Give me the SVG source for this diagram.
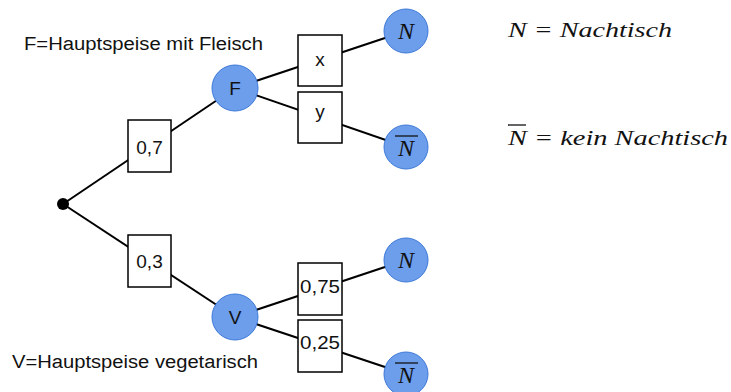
<svg xmlns="http://www.w3.org/2000/svg" width="731" height="392" viewBox="0 0 731 392">
<style>
.edge{stroke:#000;stroke-width:2;fill:none}
.box{fill:#fff;stroke:#000;stroke-width:1.5}
.circ{fill:#6d9eeb;stroke:#3c78d8;stroke-width:1}
.lbl{font-family:"Liberation Sans",Arial,sans-serif;font-size:19px;fill:#111;text-anchor:middle}
.cap{font-family:"Liberation Sans",Arial,sans-serif;font-size:18px;fill:#111}
.math{font-family:"Liberation Serif","Times New Roman",serif;font-style:italic;font-size:22px;fill:#111}
.nl{font-family:"Liberation Serif","Times New Roman",serif;font-style:italic;font-size:24px;fill:#111;text-anchor:middle}
.bar{stroke:#111;stroke-width:1.3}
</style>
<rect width="731" height="392" fill="#fff"/>
<g id="connectors">
<line class="edge" x1="63" y1="204" x2="235" y2="88"/>
<line class="edge" x1="63" y1="204" x2="235" y2="317"/>
<line class="edge" x1="235" y1="88" x2="406" y2="31"/>
<line class="edge" x1="235" y1="88" x2="406" y2="147"/>
<line class="edge" x1="235" y1="317" x2="406" y2="260"/>
<line class="edge" x1="235" y1="317" x2="406" y2="374"/>
</g>
<g id="root"><circle cx="63" cy="204" r="6" fill="#000"/></g>
<g id="p07"><rect class="box" x="128" y="120" width="43" height="52"/><text class="lbl" x="149.5" y="154">0,7</text></g>
<g id="p03"><rect class="box" x="128" y="235" width="43" height="52"/><text class="lbl" x="149.5" y="268">0,3</text></g>
<g id="px"><rect class="box" x="298" y="35" width="44" height="51"/><text class="lbl" x="320" y="66">x</text></g>
<g id="py"><rect class="box" x="298" y="92" width="44" height="51"/><text class="lbl" x="320" y="118">y</text></g>
<g id="p075"><rect class="box" x="298" y="263" width="44" height="52"/><text class="lbl" x="320" y="293" textLength="40" lengthAdjust="spacingAndGlyphs">0,75</text></g>
<g id="p025"><rect class="box" x="298" y="320" width="44" height="52"/><text class="lbl" x="320" y="349" textLength="40" lengthAdjust="spacingAndGlyphs">0,25</text></g>
<g id="F"><circle class="circ" cx="235" cy="88" r="23"/><text class="lbl" x="235" y="95">F</text></g>
<g id="V"><circle class="circ" cx="235" cy="317" r="23"/><text class="lbl" x="235" y="324">V</text></g>
<g id="N1"><circle class="circ" cx="406" cy="31" r="22"/><text class="nl" x="406" y="39">N</text></g>
<g id="Nbar1"><circle class="circ" cx="406" cy="147" r="22"/><text class="nl" x="406" y="156">N</text><line class="bar" x1="395" y1="136" x2="418" y2="136"/></g>
<g id="N2"><circle class="circ" cx="406" cy="260" r="22"/><text class="nl" x="406" y="268">N</text></g>
<g id="Nbar2"><circle class="circ" cx="406" cy="374" r="22"/><text class="nl" x="406" y="383">N</text><line class="bar" x1="395" y1="363" x2="418" y2="363"/></g>
<g id="captions">
<text class="cap" x="24" y="50" textLength="239" lengthAdjust="spacingAndGlyphs">F=Hauptspeise mit Fleisch</text>
<text class="cap" x="12" y="368" textLength="246" lengthAdjust="spacingAndGlyphs">V=Hauptspeise vegetarisch</text>
</g>
<g id="legend">
<text class="math" x="508" y="37" textLength="164" lengthAdjust="spacingAndGlyphs">N = Nachtisch</text>
<text class="math" x="508" y="145" textLength="220" lengthAdjust="spacingAndGlyphs">N = kein Nachtisch</text>
<line class="bar" x1="508" y1="125" x2="526" y2="125"/>
</g>
</svg>
